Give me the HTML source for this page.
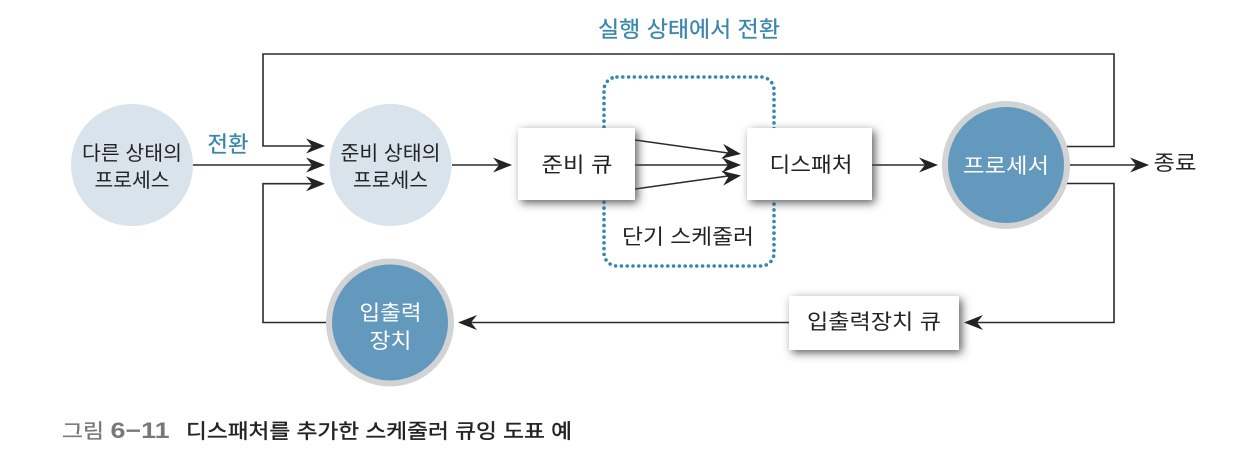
<!DOCTYPE html>
<html lang="ko">
<head>
<meta charset="utf-8">
<style>
html,body{margin:0;padding:0;background:#fff;width:1256px;height:466px;overflow:hidden}
svg{display:block}
text{font-family:"Liberation Sans","Noto Sans CJK KR",sans-serif;font-size:20px;fill:#232323;text-anchor:middle}
.w{fill:#fff}
.b{fill:#3a86ac}
.l{fill:none;stroke:#2b2b2b;stroke-width:1.6}
</style>
</head>
<body>
<svg width="1256" height="466" viewBox="0 0 1256 466" xmlns="http://www.w3.org/2000/svg">
<defs>
<filter id="s" x="-25%" y="-35%" width="155%" height="180%">
<feDropShadow dx="3" dy="3" stdDeviation="4.5" flood-color="#444" flood-opacity=".85"/>
</filter>
<path id="a" d="M0 0L-19 -7.500L-13 0L-19 7.500Z" fill="#232323"/>
</defs>

<rect x="604" y="77" width="170" height="189" rx="13" fill="none" stroke="#3089ae" stroke-width="3.6" stroke-linecap="round" stroke-dasharray="0 5.8"/>

<circle cx="132" cy="165" r="61" fill="#d8e3ec"/>
<circle cx="390.500" cy="165" r="61" fill="#d8e3ec"/>
<circle cx="1006" cy="165" r="61" fill="#6399bc" stroke="#d2d3d5" stroke-width="6"/>
<circle cx="390" cy="322.500" r="61" fill="#6399bc" stroke="#d2d3d5" stroke-width="6"/>

<path class="l" d="M1067 146.500H1114V54H263V146H312"/>
<path class="l" d="M193 165H312"/>
<path class="l" d="M326 322.500H263V183.700H312"/>
<path class="l" d="M452 165H500"/>
<path class="l" d="M635 140L728 153"/>
<path class="l" d="M635 165H728"/>
<path class="l" d="M635 189L728 176"/>
<path class="l" d="M872 165H926"/>
<path class="l" d="M1070 165H1138"/>
<path class="l" d="M1067 183.500H1114V322.500H976"/>
<path class="l" d="M789 322.500H470"/>

<use href="#a" transform="translate(325 146)"/>
<use href="#a" transform="translate(325 165)"/>
<use href="#a" transform="translate(325 183.700)"/>
<use href="#a" transform="translate(512 165)"/>
<use href="#a" transform="translate(741 154) rotate(8)"/>
<use href="#a" transform="translate(741 165)"/>
<use href="#a" transform="translate(741 175.500) rotate(-8)"/>
<use href="#a" transform="translate(938 165)"/>
<use href="#a" transform="translate(1149 165)"/>
<use href="#a" transform="translate(964 322.500) rotate(180)"/>
<use href="#a" transform="translate(458 322.500) rotate(180)"/>

<rect x="518" y="128" width="117" height="72" fill="#fff" filter="url(#s)"/>
<rect x="747" y="128" width="125" height="72" fill="#fff" filter="url(#s)"/>
<rect x="789" y="296" width="170" height="54" fill="#fff" filter="url(#s)"/>

<text class="b" x="689" y="37" style="font-size:22px;stroke:#3a86ac;stroke-width:.25" textLength="182" lengthAdjust="spacingAndGlyphs">실행 상태에서 전환</text>
<text class="b" x="228" y="152" style="font-size:22px;stroke:#3a86ac;stroke-width:.25" textLength="41" lengthAdjust="spacingAndGlyphs">전환</text>
<text x="132" y="160" textLength="100" lengthAdjust="spacingAndGlyphs">다른 상태의</text>
<text x="132" y="187" textLength="75" lengthAdjust="spacingAndGlyphs">프로세스</text>
<text x="390.500" y="160" textLength="100" lengthAdjust="spacingAndGlyphs">준비 상태의</text>
<text x="390.500" y="187" textLength="75" lengthAdjust="spacingAndGlyphs">프로세스</text>
<text x="577" y="172" style="font-size:21px" textLength="71" lengthAdjust="spacingAndGlyphs">준비 큐</text>
<text x="811" y="172" style="font-size:21px" textLength="83" lengthAdjust="spacingAndGlyphs">디스패처</text>
<text class="w" x="1006" y="173" style="font-size:21px" textLength="86" lengthAdjust="spacingAndGlyphs">프로세서</text>
<text x="1175" y="170" style="font-size:21px" textLength="43" lengthAdjust="spacingAndGlyphs">종료</text>
<text x="688" y="244" style="font-size:21px" textLength="132" lengthAdjust="spacingAndGlyphs">단기 스케줄러</text>
<text x="874" y="329" style="font-size:21px" textLength="134" lengthAdjust="spacingAndGlyphs">입출력장치 큐</text>
<text class="w" x="390.500" y="320" style="font-size:21px" textLength="62" lengthAdjust="spacingAndGlyphs">입출력</text>
<text class="w" x="390.500" y="348" style="font-size:21px" textLength="42" lengthAdjust="spacingAndGlyphs">장치</text>

<text x="83" y="438" style="font-size:20px;fill:#77787b;stroke:#77787b;stroke-width:.3" textLength="42" lengthAdjust="spacingAndGlyphs">그림</text>
<text x="140" y="438" style="font-size:22px;fill:#77787b;font-weight:700" textLength="59" lengthAdjust="spacingAndGlyphs">6−11</text>
<text x="379" y="438" style="font-size:20px;stroke:#232323;stroke-width:.4" textLength="386" lengthAdjust="spacingAndGlyphs">디스패처를 추가한 스케줄러 큐잉 도표 예</text>
</svg>
</body>
</html>
